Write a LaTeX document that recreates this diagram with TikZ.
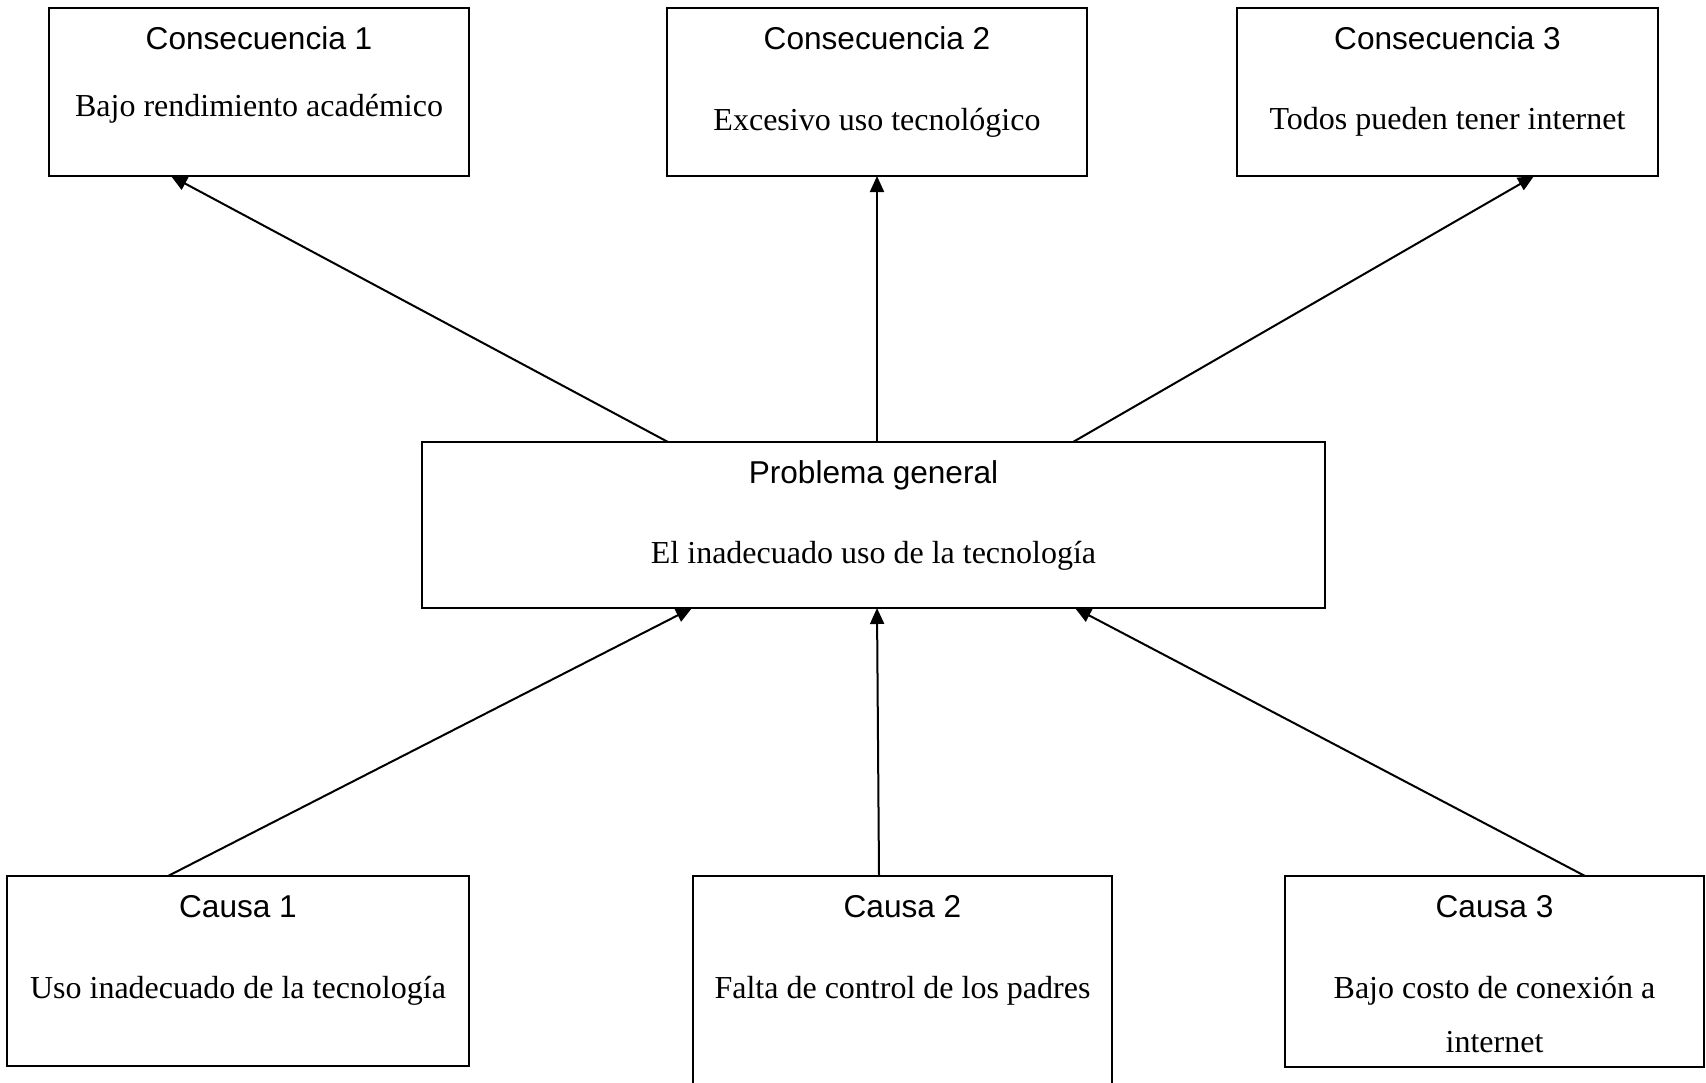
\documentclass[tikz,border=0pt]{standalone}
\usepackage{fontspec}
\setmainfont{Liberation Serif}
\newfontfamily\arialf{Liberation Sans}
\usetikzlibrary{arrows.meta}
\begin{document}
\begin{tikzpicture}[x=0.5pt,y=-0.5pt,
  box/.style={draw,line width=1pt,inner sep=0pt,outer sep=0pt,fill=none},
  ttl/.style={anchor=base,inner sep=0pt,font=\arialf\fontsize{15.8}{19}\selectfont},
  bdy/.style={anchor=base,inner sep=0pt,font=\fontsize{16}{19}\selectfont},
  arr/.style={line width=1pt,-{Triangle[length=8pt,width=7pt]}}]
\clip (0,0) rectangle (1706,1082);
\fill[white] (0,0) rectangle (1706,1082);
% consequence boxes
\node[box,minimum width=210pt,minimum height=84pt] (c1) at (259,92) {};
\node[box,minimum width=210pt,minimum height=84pt] (c2) at (877,92) {};
\node[box,minimum width=210.5pt,minimum height=84pt] (c3) at (1447.5,92) {};
% problem
\node[box,minimum width=451.5pt,minimum height=83pt] (prob) at (873.5,525) {};
% causes
\node[box,minimum width=231pt,minimum height=95pt] (k1) at (238,971) {};
\node[box,minimum width=209.5pt,minimum height=112pt] (k2) at (902.5,988) {};
\node[box,minimum width=209.5pt,minimum height=95.5pt] (k3) at (1494.5,971.5) {};
% texts
\node[ttl] (c1t) at (259,49) {Consecuencia 1};
\node[bdy] (c1b) at (259,116) {Bajo rendimiento académico};
\node[ttl] (c2t) at (877,49) {Consecuencia 2};
\node[bdy] (c2b) at (877,130) {Excesivo uso tecnológico};
\node[ttl] (c3t) at (1447.5,49) {Consecuencia 3};
\node[bdy] (c3b) at (1447.5,129) {Todos pueden tener internet};
\node[ttl] (pt) at (873.5,483) {Problema general};
\node[bdy] (pb) at (873.5,563) {El inadecuado uso de la tecnología};
\node[ttl] (k1t) at (238,917) {Causa 1};
\node[bdy] (k1b) at (238,998) {Uso inadecuado de la tecnología};
\node[ttl] (k2t) at (902.5,917) {Causa 2};
\node[bdy] (k2b) at (902.5,998) {Falta de control de los padres};
\node[ttl] (k3t) at (1494.5,917) {Causa 3};
\node[bdy] (k3b) at (1494.5,998) {Bajo costo de conexión a};
\node[bdy] (k3c) at (1494.5,1052) {internet};
% arrows
\draw[arr] ([xshift=-102.75pt]prob.north) -- ([xshift=-44pt]c1.south);
\draw[arr] ([xshift=1.75pt]prob.north) -- (c2.south);
\draw[arr] ([xshift=99.75pt]prob.north) -- ([xshift=43.25pt]c3.south);
\draw[arr] ([xshift=-35pt]k1.north) -- ([xshift=-90.75pt]prob.south);
\draw[arr] ([xshift=-11.75pt]k2.north) -- ([xshift=1.75pt]prob.south);
\draw[arr] ([xshift=45.25pt]k3.north) -- ([xshift=100.75pt]prob.south);
\end{tikzpicture}
\end{document}
